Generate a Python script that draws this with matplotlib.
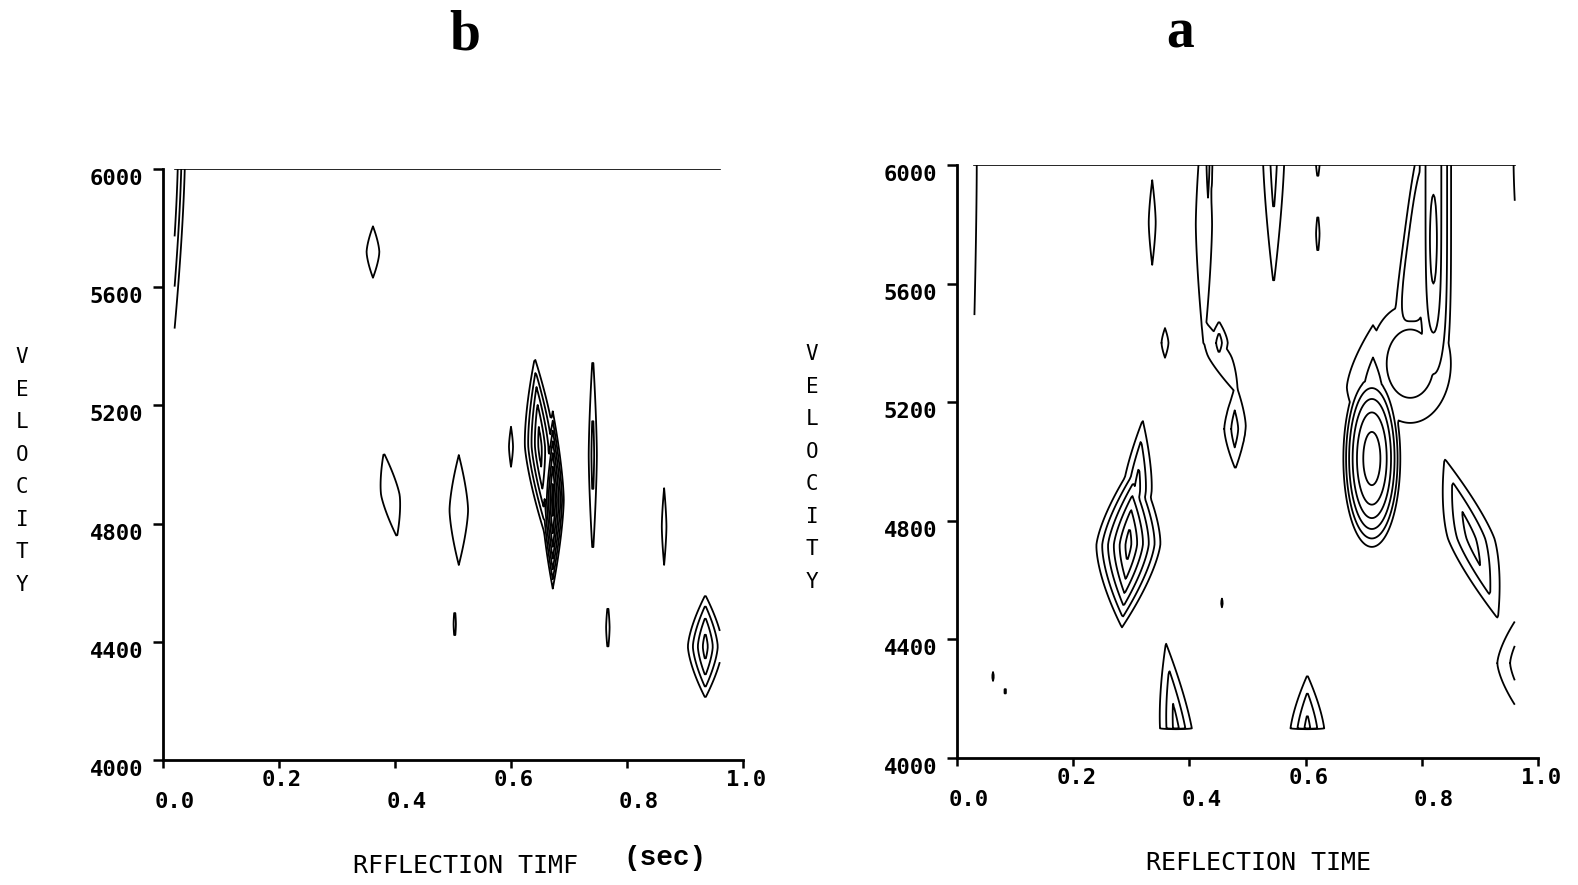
import numpy as np
import matplotlib
matplotlib.use("Agg")
import matplotlib.pyplot as plt
from matplotlib.transforms import blended_transform_factory, ScaledTranslation

W, H, DPI = 1578, 885, 100

# ---------------- data ----------------
y_ticks = [4000, 4400, 4800, 5200, 5600, 6000]
x_ticks = [0.0, 0.2, 0.4, 0.6, 0.8, 1.0]
x_tick_labels = ["0.0", "0.2", "0.4", "0.6", "0.8", "1.0"]
contour_levels = [1, 2, 3, 4, 5, 6, 7, 8, 9, 10, 11]

# panel b (left): semblance peaks
# centre time, centre velocity, time width, velocity width, amplitude, tilt, shape exponents
b_t_range = (0.02, 0.96)
b_v_range = (4100, 6000)
b_tc = [-0.03, 0.362, 0.392, 0.510, 0.503, 0.600, 0.672, 0.650, 0.741, 0.864, 0.767, 0.935]
b_vc = [6050, 5719, 4897, 4846, 4460, 5060, 4880, 5060, 5032, 4790, 4448, 4384]
b_wt = [0.074, 0.033, 0.048, 0.048, 0.006, 0.0105, 0.0219, 0.0318, 0.0117, 0.012, 0.009, 0.0386]
b_wv = [1518, 181, 297, 387, 123, 141, 330, 343, 485, 270, 173, 206]
b_amp = [12.2, 1.5, 1.5, 1.5, 1.5, 1.5, 7.5, 5.5, 2.5, 1.5, 1.5, 4.5]
b_tilt = [0, 0, -0.08, 0, 0, 0, 0, -0.03, 0, 0, 0, 0]
b_pt = [1, 1, 1, 1, 1, 1, 1, 1, 1, 1, 1, 1]
b_pv = [1.5, 1.5, 1.5, 1.5, 1.5, 1.5, 1.5, 1.5, 1.5, 1.5, 1.5, 1.5]

# panel a (right)
a_t_range = (0.03, 0.96)
a_v_range = (4100, 6000)
a_tc = [-0.02, 0.336, 0.358, 0.425, 0.480, 0.432, 0.451, 0.478, 0.545, 0.621, 0.621,
        0.714, 0.716, 0.820, 0.820, 0.801, 0.780, 0.885, 0.985, 0.295, 0.310, 0.378, 0.603,
        0.456, 0.062, 0.083, 0.980, 0.452]
a_vc = [6000, 5806, 5400, 5800, 5120, 6000, 5400, 5110, 6060, 6030, 5768,
        5010, 5250, 6000, 5750, 5750, 5330, 4740, 4320, 4720, 4900, 4080, 4080,
        4523, 4275, 4225, 6000, 5355]
a_wt = [0.162, 0.018, 0.018, 0.042, 0.051, 0.0125, 0.025, 0.030, 0.0315, 0.012, 0.009,
        0.0533, 0.075, 0.036, 0.018, 0.0364, 0.0904, 0.056, 0.077, 0.065, 0.035, 0.039, 0.042,
        0.004, 0.004, 0.004, 0.066, 0.060]
a_wv = [5970, 297, 104, 874, 292, 322, 102, 183, 654, 167, 150,
        324, 295, 835, 450, 474, 258, 338, 263, 313, 300, 385, 250,
        31, 31, 40, 1242, 271]
a_amp = [1.5, 1.5, 1.5, 1.5, 1.5, 2.5, 2.5, 2.5, 2.5, 1.5, 1.5,
         6.5, 2.5, 3.5, 4.5, 2.5, 2.5, 3.5, 3.5, 6.5, 3.5, 3.5, 3.5,
         1.5, 1.5, 1.5, 1.5, 1.5]
a_tilt = [0, 0, 0, 0, 0, 0, 0, 0, 0, 0, 0,
          0, 0, 0, 0, 0.067, 0, -0.17, 0, 0.04, 0.04, -0.06, 0,
          0, 0, 0, 0, -0.24]
a_pt = [1, 1, 1, 1, 1, 1, 1, 1, 1, 1, 1,
        2, 1, 2, 2, 4, 2, 1, 1, 1, 1, 1, 1,
        1, 1, 1, 1, 1]
a_pv = [1.5, 1.5, 1.5, 1.5, 1.5, 1.5, 1.5, 1.5, 1.5, 1.5, 1.5,
        2, 1.5, 5, 2, 3, 2, 1.5, 1.5, 1.5, 1.5, 1.5, 1.5,
        1.5, 1.5, 1.5, 1.5, 1.5]

PLOT_FONT = "DejaVu Sans Mono"


def build_field(t_range, v_range, tc, vc, wt, wv, amp, tilt, pt, pv):
    t = np.arange(t_range[0], t_range[1] + 1e-9, 0.002)
    v = np.arange(v_range[0], v_range[1] + 1e-9, 10.0)
    v = np.concatenate([[v_range[0] - 4.0], v])  # closing row below grid
    T, V = np.meshgrid(t, v)
    Z = np.zeros_like(T)
    for c, m, a_w, b_w, A, s, p, q in zip(tc, vc, wt, wv, amp, tilt, pt, pv):
        r = (np.abs(T - c - s * (V - m) / 1000.0) / a_w) ** p + (np.abs(V - m) / b_w) ** q
        Z = np.maximum(Z, A * np.clip(1.0 - r, 0.0, None))
    Z[0, :] = 0.0
    return T, V, Z


fig = plt.figure(figsize=(W / DPI, H / DPI), dpi=DPI)
fig.patch.set_facecolor("white")

ax_b = fig.add_axes([163 / W, (H - 760) / H, 580 / W, 591 / H])
ax_a = fig.add_axes([957 / W, (H - 758) / H, 581 / W, 593 / H])

panels = [
    (ax_b, b_t_range, b_v_range, (b_tc, b_vc, b_wt, b_wv, b_amp, b_tilt, b_pt, b_pv)),
    (ax_a, a_t_range, a_v_range, (a_tc, a_vc, a_wt, a_wv, a_amp, a_tilt, a_pt, a_pv)),
]

for ax, tr, vr, blobs in panels:
    ax.set_xlim(0, 1)
    ax.set_ylim(4000, 6000)
    ax.patch.set_alpha(0)
    for side in ("top", "right"):
        ax.spines[side].set_visible(False)
    for side in ("left", "bottom"):
        ax.spines[side].set_linewidth(2.0)
    ax.set_xticks(x_ticks)
    ax.set_yticks(y_ticks)
    ax.tick_params(axis="y", direction="out", length=7, width=1.8, labelleft=False)
    ax.tick_params(axis="x", direction="out", length=6, width=1.8, labelbottom=False)

    T, V, Z = build_field(tr, vr, *blobs)
    ax.contour(T, V, Z, levels=contour_levels, colors="k", linewidths=1.3)
    ax.plot([tr[0], tr[1]], [vr[1], vr[1]], color="k", lw=1.2)

    ytr = blended_transform_factory(ax.transAxes, ax.transData)
    for v in y_ticks:
        ax.text(0, v, str(v),
                transform=ytr + ScaledTranslation(-20 / DPI, -10 / DPI, fig.dpi_scale_trans),
                ha="right", va="center", fontsize=16, family=PLOT_FONT, weight="bold")
    xtr = blended_transform_factory(ax.transData, ax.transAxes)
    for i, (x, lab) in enumerate(zip(x_ticks, x_tick_labels)):
        if i % 2 == 1:
            dx, dy = 3, -20
        else:
            dx, dy = 12, -42
        ax.text(x, 0, lab,
                transform=xtr + ScaledTranslation(dx / DPI, dy / DPI, fig.dpi_scale_trans),
                ha="center", va="center", fontsize=16, family=PLOT_FONT, weight="bold")


def fx(x):
    return x / W


def fy(y):
    return 1 - y / H


# axis titles
fig.text(fx(22), fy(471), "V\nE\nL\nO\nC\nI\nT\nY", ha="center", va="center",
         fontsize=15, family=PLOT_FONT, linespacing=1.78)
fig.text(fx(812), fy(468), "V\nE\nL\nO\nC\nI\nT\nY", ha="center", va="center",
         fontsize=15, family=PLOT_FONT, linespacing=1.78)
fig.text(fx(465), fy(866), "RFFLECTION TIMF", ha="center", va="center",
         fontsize=18, family=PLOT_FONT)
fig.text(fx(665), fy(858), "(sec)", ha="center", va="center",
         fontsize=20, family="Liberation Mono", weight="bold")
fig.text(fx(1259), fy(863), "REFLECTION TIME", ha="center", va="center",
         fontsize=18, family=PLOT_FONT)

# panel letters
fig.text(fx(465), fy(49), "b", ha="center", va="baseline", fontsize=40,
         family="Liberation Serif", weight="bold")
fig.text(fx(1180), fy(47), "a", ha="center", va="baseline", fontsize=40,
         family="Liberation Serif", weight="bold")

fig.savefig("out.png", dpi=DPI, facecolor="white")
